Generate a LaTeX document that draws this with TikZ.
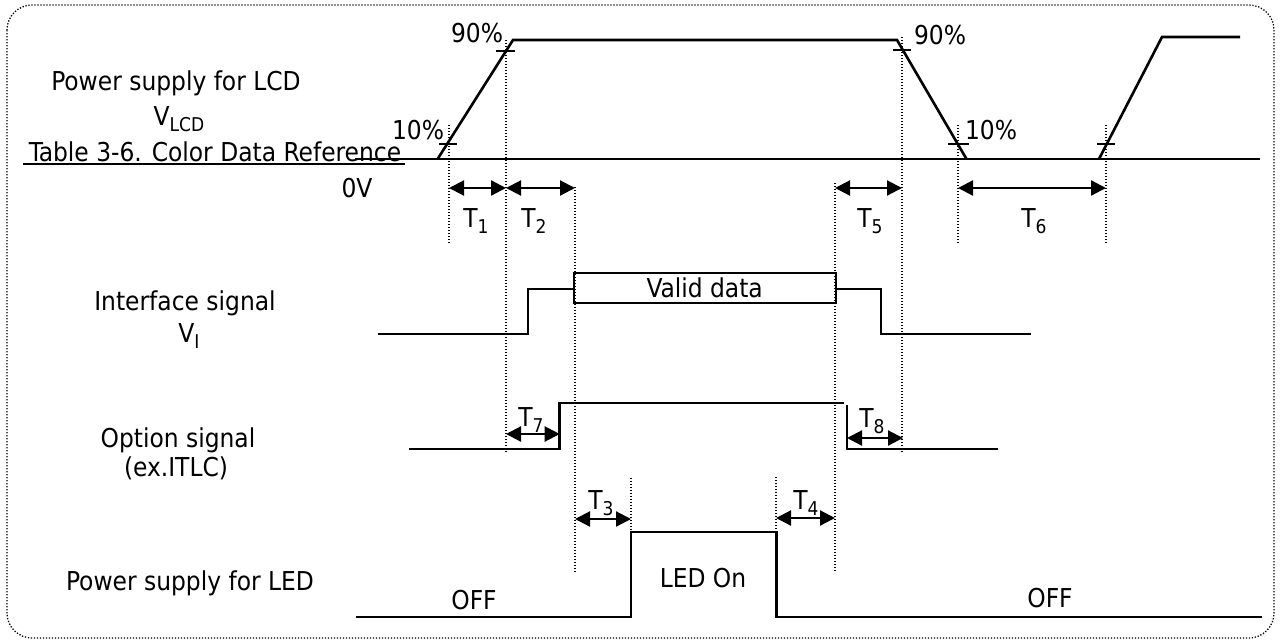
\documentclass[tikz,border=0pt]{standalone}
\usepackage{fontspec}
\setmainfont{DejaVu Sans Condensed}
\usetikzlibrary{positioning,arrows.meta}

\newcommand{\lowtxt}[1]{\raisebox{-6pt}{\fontsize{19}{19}\selectfont #1}}

\begin{document}
\begin{tikzpicture}[x=1pt, y=-1pt,
  sig/.style={line width=2.6pt, line join=miter},
  guide/.style={line width=1.3pt, dash pattern=on 1.3pt off 1.7pt},
  tickln/.style={line width=1.6pt},
  dim/.style={{Triangle[length=15pt,width=15pt]}-{Triangle[length=15pt,width=15pt]}, line width=2.2pt},
  lbl/.style={font=\fontsize{26}{29}\selectfont, inner sep=0pt, anchor=base}
]
  \useasboundingbox (0,0) rectangle (1280,641);
  \draw[guide, rounded corners=25pt] (7,5) rectangle (1274,638);

  % left labels
  \node[lbl] (lcd)   at (176,90)  {Power supply for LCD};
  \node[lbl] (vlcd)  at (179,125) {V\lowtxt{LCD}};
  \node[lbl] (tab)   at (215,161) {Table 3-6. Color Data Reference};
  \draw[tickln] (23,164) -- (405,164);
  \node[lbl] (zero)  at (357,197) {0V};
  \node[lbl] (intf)  at (185,310) {Interface signal};
  \node[lbl] (vi)    at (189,342) {V\lowtxt{I}};
  \node[lbl] (opt)   at (178,447) {Option signal};
  \node[lbl] (itlc)  at (176,476) {(ex.ITLC)};
  \node[lbl] (led)   at (190,590) {Power supply for LED};

  % LCD supply
  \draw[sig] (355,159) -- (1260,159);
  \draw[sig] (437.6,159) -- (513,40) -- (897,40) -- (966.5,159);
  \draw[sig] (1099,159) -- (1162,37) -- (1240,37);
  \draw[tickln] (439,144) -- (457,144);
  \draw[tickln] (496,51) -- (515,51);
  \draw[tickln] (893,50) -- (911,50);
  \draw[tickln] (948,144) -- (969,144);
  \draw[tickln] (1097,144) -- (1115,144);
  \node[lbl] (p10a) at (418,139) {10\%};
  \node[lbl] (p90a) at (477,42)  {90\%};
  \node[lbl] (p90b) at (940,44)  {90\%};
  \node[lbl] (p10b) at (991,139) {10\%};

  % timing guides
  \draw[guide] (449,125) -- (449,243);
  \draw[guide] (506,40)  -- (506,453);
  \draw[guide] (575,187) -- (575,573);
  \draw[guide] (835,183) -- (835,573);
  \draw[guide] (902,37)  -- (902,453);
  \draw[guide] (958,125) -- (958,243);
  \draw[guide] (1106,125) -- (1106,243);
  \draw[guide] (631,478) -- (631,530);
  \draw[guide] (776,477) -- (776,532);

  \coordinate (a1) at (449,188);  \coordinate (a2) at (506,188);
  \coordinate (a3) at (575,188);  \coordinate (a5) at (835,188);
  \coordinate (a6) at (902,188);  \coordinate (a7) at (958,188);
  \coordinate (a8) at (1106,188);
  \draw[dim] (a1) -- (a2);
  \draw[dim] (a2) -- (a3);
  \draw[dim] (a5) -- (a6);
  \draw[dim] (a7) -- (a8);
  \node[lbl] (t1) at (476,227)  {T\lowtxt{1}};
  \node[lbl] (t2) at (534,227)  {T\lowtxt{2}};
  \node[lbl] (t5) at (870,227)  {T\lowtxt{5}};
  \node[lbl] (t6) at (1034,227) {T\lowtxt{6}};

  % interface signal
  \draw[sig] (378,334) -- (528,334) -- (528,289) -- (573.6,289);
  \node[draw, line width=2.2pt, minimum width=262pt, minimum height=30pt, inner sep=0pt,
        font=\fontsize{26}{29}\selectfont] (vd) at (704.7,288) {Valid data};
  \draw[sig] (835.8,289) -- (880.8,289) -- (880.8,334) -- (1031,334);

  % option signal
  \draw[sig] (409,449) -- (559.7,449) -- (559.7,403) -- (844,403);
  \draw[sig] (847,405) -- (847,449) -- (998,449);
  \coordinate (b1) at (506,434);  \coordinate (b2) at (559.7,434);
  \coordinate (b3) at (847,438);  \coordinate (b4) at (903,438);
  \draw[dim] (b1) -- (b2);
  \draw[dim] (b3) -- (b4);
  \node[lbl] (t7) at (531,426) {T\lowtxt{7}};
  \node[lbl] (t8) at (872,427) {T\lowtxt{8}};

  % LED supply
  \draw[sig] (356,617) -- (631,617) -- (631,532) -- (776.4,532) -- (776.4,617) -- (1262,617);
  \coordinate (c1) at (575,519);  \coordinate (c2) at (631,519);
  \coordinate (c3) at (776,518);  \coordinate (c4) at (835,518);
  \draw[dim] (c1) -- (c2);
  \draw[dim] (c3) -- (c4);
  \node[lbl] (t3) at (601,509) {T\lowtxt{3}};
  \node[lbl] (t4) at (806,509) {T\lowtxt{4}};
  \node[lbl] (off1) at (474,609)  {OFF};
  \node[lbl] (on)   at (703,587)  {LED On};
  \node[lbl] (off2) at (1050,607) {OFF};
\end{tikzpicture}
\end{document}
